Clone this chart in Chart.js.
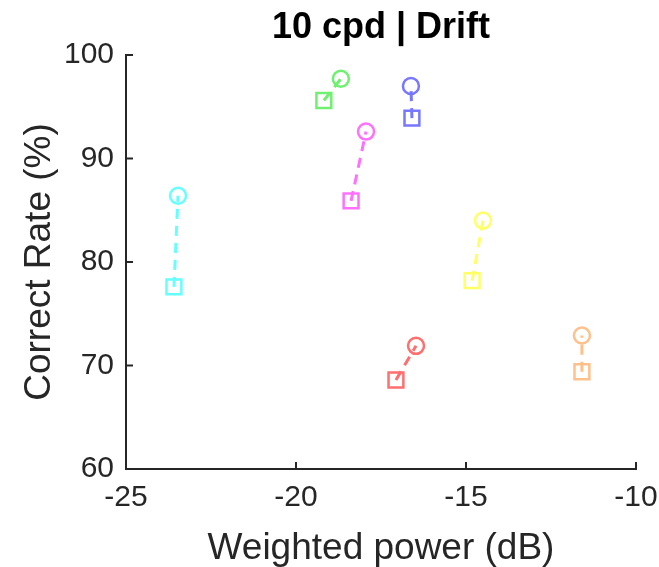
<!DOCTYPE html>
<html>
<head>
<meta charset="utf-8">
<script src="https://cdn.jsdelivr.net/npm/chart.js@4/dist/chart.umd.min.js"></script>
<style>
  html, body { margin: 0; padding: 0; background: #fff; }
  #wrap { width: 659px; height: 567px; }
</style>
</head>
<body>
<div id="wrap"><canvas id="driftChart" width="659" height="567"></canvas></div>
<script>
// data: one circle and one square per colour
const groupColors = ['#66ffff', '#70f070', '#ff70ff', '#7777ff', '#ffff66', '#ff6f6f', '#ffc08c'];
const circlePower = [-23.47, -18.68, -17.94, -16.62, -14.50, -16.47, -11.59];
const circleRate  = [86.4, 97.7, 92.6, 97.0, 84.0, 71.9, 72.9];
const squarePower = [-23.59, -19.18, -18.38, -16.59, -14.82, -17.06, -11.59];
const squareRate  = [77.6, 95.6, 85.9, 93.9, 78.2, 68.6, 69.4];
const xTicks = [-25, -20, -15, -10];
const yTicks = [60, 70, 80, 90, 100];

const FONT = "'Liberation Sans', Arial, sans-serif";
const AXIS = '#262626';

const datasets = [];
groupColors.forEach((col, i) => {
  // dashed link square -> circle
  datasets.push({
    data: [{x: squarePower[i], y: squareRate[i]}, {x: circlePower[i], y: circleRate[i]}],
    showLine: true,
    borderColor: col,
    borderWidth: 3,
    borderDash: [10, 7],
    pointRadius: 0,
    order: 2
  });
  datasets.push({
    data: [{x: circlePower[i], y: circleRate[i]}],
    pointStyle: 'circle',
    pointRadius: 8,
    pointBorderWidth: 2.5,
    pointBorderColor: col,
    pointBackgroundColor: 'rgba(0,0,0,0)',
    order: 1
  });
  datasets.push({
    data: [{x: squarePower[i], y: squareRate[i]}],
    pointStyle: 'rect',
    pointRadius: 10.5,
    pointBorderWidth: 2.5,
    pointBorderColor: col,
    pointBackgroundColor: 'rgba(0,0,0,0)',
    order: 1
  });
});

// MATLAB style ticks pointing into the axes
const inwardTicks = {
  id: 'inwardTicks',
  afterDraw(chart) {
    const ctx = chart.ctx;
    const xs = chart.scales.x, ys = chart.scales.y;
    const a = chart.chartArea;
    ctx.save();
    ctx.strokeStyle = AXIS;
    ctx.lineWidth = 2;
    xTicks.forEach(v => {
      const px = xs.getPixelForValue(v);
      ctx.beginPath(); ctx.moveTo(px, a.bottom); ctx.lineTo(px, a.bottom - 7); ctx.stroke();
    });
    yTicks.forEach(v => {
      const py = ys.getPixelForValue(v);
      ctx.beginPath(); ctx.moveTo(a.left, py); ctx.lineTo(a.left + 7, py); ctx.stroke();
    });
    ctx.restore();
  }
};

new Chart(document.getElementById('driftChart').getContext('2d'), {
  type: 'scatter',
  data: { datasets: datasets },
  options: {
    responsive: false,
    animation: false,
    layout: { padding: { left: 0, right: 23, top: 0, bottom: 0 } },
    plugins: {
      legend: { display: false },
      tooltip: { enabled: false },
      title: {
        display: true,
        text: '10 cpd | Drift',
        fullSize: false,
        color: '#000',
        font: { family: FONT, size: 36, weight: 'bold' },
        padding: { top: 6.4, bottom: 5.4 }
      }
    },
    scales: {
      x: {
        min: -25, max: -10,
        afterBuildTicks: s => { s.ticks = xTicks.map(v => ({value: v})); },
        afterFit: s => { s.height = 98; s.paddingLeft = 0; s.paddingRight = 0; },
        grid: { display: false, drawTicks: false },
        border: { display: true, color: AXIS, width: 2 },
        ticks: { color: '#262626', padding: 11, font: { family: FONT, size: 30 } },
        title: {
          display: true, text: 'Weighted power (dB)', color: '#262626',
          font: { family: FONT, size: 37, lineHeight: 1.0 }, padding: { top: 0, bottom: 0 }
        }
      },
      y: {
        min: 60, max: 100,
        afterBuildTicks: s => { s.ticks = yTicks.map(v => ({value: v})); },
        afterFit: s => { s.width = 126; },
        grid: { display: false, drawTicks: false },
        border: { display: true, color: AXIS, width: 2 },
        ticks: { color: '#262626', padding: 12, font: { family: FONT, size: 30 } },
        title: {
          display: true, text: 'Correct Rate (%)', color: '#262626',
          font: { family: FONT, size: 37 }, padding: { top: 18, bottom: 0 }
        }
      }
    }
  },
  plugins: [inwardTicks]
});
</script>
</body>
</html>
